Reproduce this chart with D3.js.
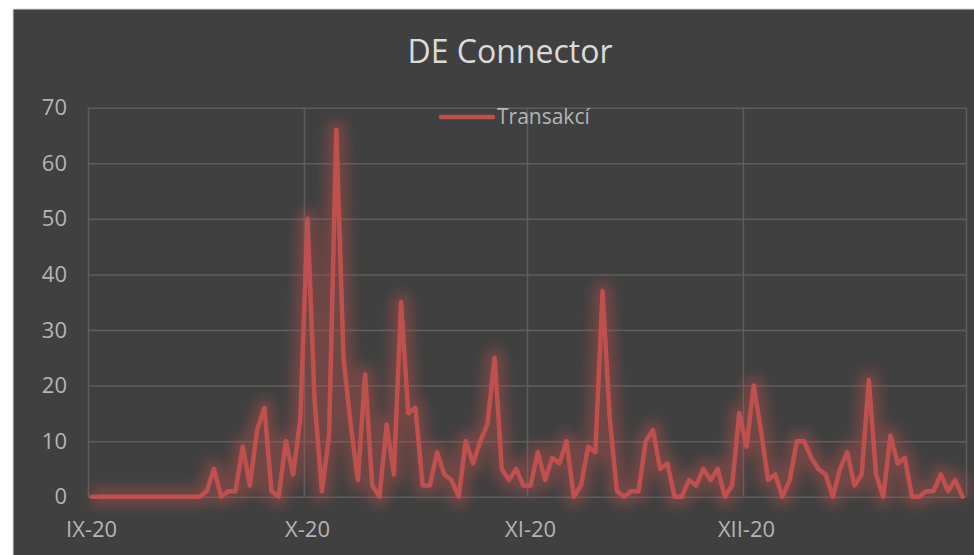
<!DOCTYPE html>
<html>
<head>
<meta charset="utf-8">
<script src="https://cdn.jsdelivr.net/npm/d3@7"></script>
<style>
  html, body { margin: 0; padding: 0; background: #ffffff; }
  svg { display: block; }
  text { font-family: "Open Sans", "Noto Sans", sans-serif; }
</style>
</head>
<body>
<svg id="chart" width="974" height="555"></svg>
<script>
// Daily transaction counts, 1 Sep 2020 – 31 Dec 2020
const firstDay = "2020-09-01";
const transakci = [
  0, 0, 0, 0, 0, 0, 0, 0, 0, 0, 0, 0, 0, 0, 0, 0,
  1, 5, 0, 1, 1, 9, 2, 12, 16, 1, 0, 10, 4, 14,
  50, 17, 1, 11, 66, 25, 13, 3, 22, 2, 0, 13, 4, 35, 15, 16,
  2, 2, 8, 4, 3, 0, 10, 6, 10, 13, 25, 5, 3, 5, 2,
  2, 8, 3, 7, 6, 10, 0, 2, 9, 8, 37, 14, 1, 0, 1, 1,
  10, 12, 5, 6, 0, 0, 3, 2, 5, 3, 5, 0, 2, 15, 9,
  20, 12, 3, 4, 0, 3, 10, 10, 7, 5, 4, 0, 5, 8, 2, 4,
  21, 4, 0, 11, 6, 7, 0, 0, 1, 1, 4, 1, 3, 0
];
const monthStarts = ["2020-09-01", "2020-10-01", "2020-11-01", "2020-12-01", "2021-01-01"];
const monthLabels = ["IX-20", "X-20", "XI-20", "XII-20"];
const yTicks = [0, 10, 20, 30, 40, 50, 60, 70];
const seriesName = "Transakcí";
const chartTitle = "DE Connector";

const parse = d3.utcParse("%Y-%m-%d");
const start = parse(firstDay);
const days = transakci.map((v, i) => ({ date: d3.utcDay.offset(start, i), value: v }));
const months = monthStarts.map(parse);

const svg = d3.select("#chart");
const plot = { left: 88, right: 966, top: 107.7, bottom: 496.7 };

const x = d3.scaleUtc().domain([months[0], months[months.length - 1]]).range([plot.left, plot.right]);
const y = d3.scaleLinear().domain([0, 70]).range([plot.bottom, plot.top]);
// each day is drawn in the middle of its slot
const mid = d => d3.utcHour.offset(d, 12);

// chart area
svg.append("rect").attr("x", 13).attr("y", 9).attr("width", 980).attr("height", 560)
  .attr("fill", "#404040").attr("stroke", "#d9d9d9").attr("stroke-width", 1);

// title
svg.append("text").attr("x", 510).attr("y", 63).attr("text-anchor", "middle")
  .attr("font-size", 32).attr("fill", "#dadada").text(chartTitle);

// horizontal gridlines + value labels
const yAxis = svg.append("g").attr("transform", `translate(${plot.left},0)`)
  .call(d3.axisLeft(y).tickValues(yTicks).tickSize(-(plot.right - plot.left)).tickPadding(21));
yAxis.select(".domain").remove();
yAxis.selectAll(".tick line").attr("stroke", "#5d5d5d").attr("stroke-width", 1.5);
yAxis.selectAll(".tick text").attr("font-size", 22).attr("fill", "#b4b4b4")
  .attr("font-family", "'Open Sans', sans-serif");

// vertical gridlines at month starts
const xGrid = svg.append("g").attr("transform", `translate(0,${plot.bottom})`)
  .call(d3.axisBottom(x).tickValues(months).tickSize(-(plot.bottom - plot.top)).tickFormat(""));
xGrid.select(".domain").remove();
xGrid.selectAll(".tick line").attr("stroke", "#5d5d5d").attr("stroke-width", 1.5);

// month labels
svg.append("g").selectAll("text").data(monthLabels).join("text")
  .attr("x", (d, i) => x(mid(months[i])))
  .attr("y", 537)
  .attr("text-anchor", "middle")
  .attr("font-size", 22).attr("fill", "#b4b4b4")
  .text(d => d);

// glow filter for the series line
const defs = svg.append("defs");
const glow = defs.append("filter").attr("id", "glow")
  .attr("x", "-10%").attr("y", "-20%").attr("width", "120%").attr("height", "140%");
glow.append("feGaussianBlur").attr("stdDeviation", 6);

const line = d3.line().x(d => x(mid(d.date))).y(d => y(d.value)).curve(d3.curveLinear);

svg.append("path").datum(days)
  .attr("d", line).attr("fill", "none")
  .attr("stroke", "#c0504d").attr("stroke-width", 20).attr("stroke-opacity", 0.38)
  .attr("stroke-linejoin", "round").attr("filter", "url(#glow)");

svg.append("path").datum(days)
  .attr("d", line).attr("fill", "none")
  .attr("stroke", "#c0504d").attr("stroke-width", 4.5)
  .attr("stroke-linejoin", "round").attr("stroke-linecap", "round");

// legend
const legend = svg.append("g");
legend.append("line").attr("x1", 441).attr("x2", 493).attr("y1", 117).attr("y2", 117)
  .attr("stroke", "#c0504d").attr("stroke-width", 4.5).attr("stroke-linecap", "round");
legend.append("text").attr("x", 497).attr("y", 124).attr("font-size", 21)
  .attr("fill", "#b4b4b4").text(seriesName);
</script>
</body>
</html>
